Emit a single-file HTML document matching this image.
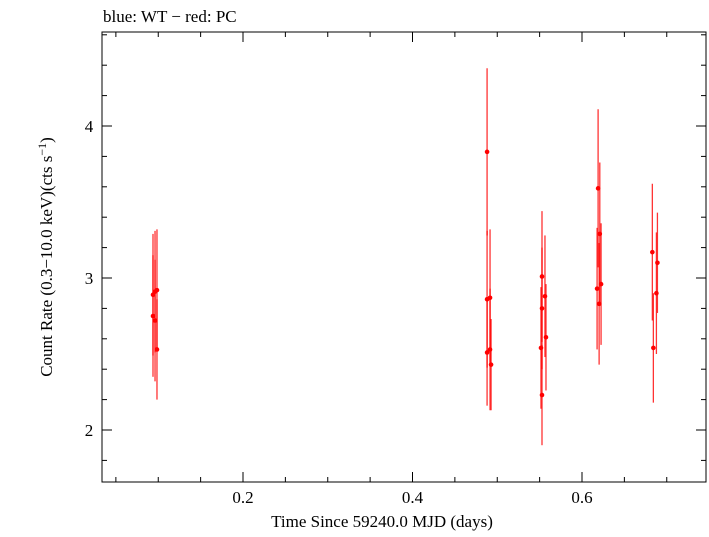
<!DOCTYPE html>
<html><head><meta charset="utf-8"><style>
body{margin:0;background:#fff}
svg{font-family:"Liberation Serif",serif}
</style></head><body>
<svg id="c" width="709" height="532">
<text x="103" y="22" font-size="17">blue: WT − red: PC</text>
<rect x="102" y="32" width="604" height="450" fill="none" stroke="#000" stroke-width="1"/>
<g id="ticks"></g>
<g id="marks"></g>
<text x="382" y="527" font-size="17" text-anchor="middle">Time Since 59240.0 MJD (days)</text>
<text transform="translate(52,257) rotate(-90)" font-size="17" text-anchor="middle">Count Rate (0.3−10.0 keV)(cts s<tspan dy="-6" font-size="12">−1</tspan><tspan dy="6">)</tspan></text>
</svg>
<script>
const times=[0.0938,0.0962,0.0985,0.0962,0.0985,0.0938,0.488,0.488,0.4915,0.4927,0.488,0.4915,0.5528,0.5563,0.5528,0.5575,0.5528,0.5516,0.619,0.621,0.6178,0.6225,0.6202,0.683,0.689,0.6842,0.6878];
const rates=[2.75,2.91,2.92,2.72,2.53,2.89,3.83,2.86,2.87,2.43,2.51,2.53,3.01,2.88,2.80,2.61,2.23,2.54,3.59,3.29,2.93,2.96,2.83,3.17,3.10,2.54,2.90];
const errs=[0.4,0.4,0.4,0.4,0.33,0.4,0.55,0.45,0.45,0.3,0.35,0.4,0.43,0.4,0.4,0.35,0.33,0.4,0.52,0.47,0.4,0.4,0.4,0.45,0.33,0.36,0.4];
const xTicks=[0.2,0.4,0.6];
const yTicks=[2,3,4];
const NS="http://www.w3.org/2000/svg";
const X=t=>73.5+847.5*t;
const Y=v=>278-(v-3)*152;
function mk(tag,at,parent){const e=document.createElementNS(NS,tag);for(const k in at)e.setAttribute(k,at[k]);parent.appendChild(e);return e;}
const tg=document.getElementById('ticks'),mg=document.getElementById('marks');
for(let t=0.05;t<0.76;t+=0.05){const x=X(t);if(x<102||x>706)continue;const major=Math.abs(t*5-Math.round(t*5))<1e-6;const L=major?10:5;
const a=mk('line',{x1:x,x2:x,y1:482,y2:482-L,stroke:'#000'},tg);
const b=mk('line',{x1:x,x2:x,y1:32,y2:32+L,stroke:'#000'},tg);}
xTicks.forEach(t=>{const e=mk('text',{x:X(t),y:503,'font-size':17,'text-anchor':'middle'},tg);e.textContent=String(t);

});
for(let v=1.8;v<4.7;v+=0.2){const y=Y(v);if(y<32||y>482)continue;const major=Math.abs(v-Math.round(v))<1e-6;const L=major?10:5;
const a=mk('line',{x1:102,x2:102+L,y1:y,y2:y,stroke:'#000'},tg);
const b=mk('line',{x1:706,x2:706-L,y1:y,y2:y,stroke:'#000'},tg);}
yTicks.forEach(v=>{const e=mk('text',{x:89,y:Y(v)+6,'font-size':17,'text-anchor':'middle'},tg);e.textContent=String(v);

});
times.forEach((t,i)=>{const x=X(t);
const l=mk('line',{x1:x,x2:x,y1:Y(rates[i]+errs[i]),y2:Y(rates[i]-errs[i]),stroke:'#f00','stroke-width':1.3,'stroke-opacity':0.8},mg);


const c=mk('circle',{cx:x,cy:Y(rates[i]),r:2.3,fill:'#f00'},mg);

});
</script>
</body></html>
